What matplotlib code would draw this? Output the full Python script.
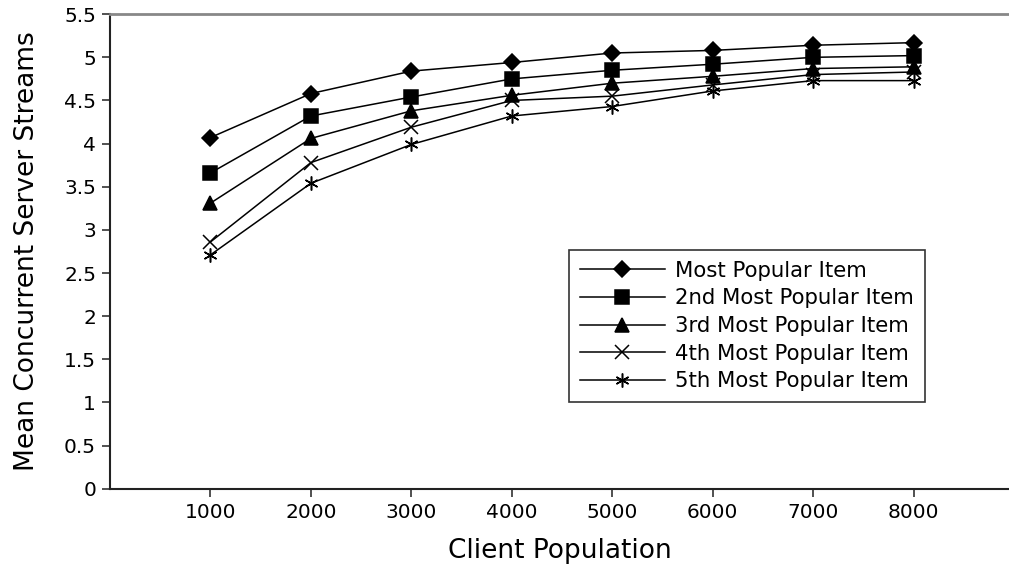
import matplotlib
matplotlib.use("Agg")
import matplotlib.pyplot as plt

clients = [1000, 2000, 3000, 4000, 5000, 6000, 7000, 8000]

most_popular = [4.07, 4.58, 4.84, 4.94, 5.05, 5.08, 5.14, 5.17]
second_popular = [3.66, 4.32, 4.54, 4.75, 4.85, 4.92, 5.00, 5.02]
third_popular = [3.31, 4.06, 4.38, 4.56, 4.70, 4.78, 4.87, 4.89]
fourth_popular = [2.86, 3.78, 4.19, 4.50, 4.55, 4.68, 4.80, 4.83]
fifth_popular = [2.71, 3.54, 3.99, 4.32, 4.43, 4.61, 4.73, 4.73]

series_names = ["Most Popular Item", "2nd Most Popular Item", "3rd Most Popular Item",
                "4th Most Popular Item", "5th Most Popular Item"]
series_values = [most_popular, second_popular, third_popular, fourth_popular, fifth_popular]

y_ticks = [0, 0.5, 1, 1.5, 2, 2.5, 3, 3.5, 4, 4.5, 5, 5.5]
y_tick_labels = ["0", "0.5", "1", "1.5", "2", "2.5", "3", "3.5", "4", "4.5", "5", "5.5"]

# (marker, size, face colour)
markers = [("D", 8, "black"), ("s", 9.5, "black"), ("^", 9.5, "black"),
           ("x", 10, "none"), ((6, 2, 0), 10, "none")]

fig = plt.figure(figsize=(10.09, 5.67), dpi=100)
ax = fig.add_axes([0.109, 0.138, 0.891, 0.837])

for name, vals, (m, ms, fc) in zip(series_names, series_values, markers):
    ax.plot(clients, vals, color="black", lw=1.1, marker=m, ms=ms,
            mfc=fc, mec="black", mew=1.1, label=name)

ax.set_xlim(0, 8950)
ax.set_ylim(0, 5.5)
ax.set_xticks(clients)
ax.set_xticklabels([str(c) for c in clients], fontsize=14.5)
ax.set_yticks(y_ticks)
ax.set_yticklabels(y_tick_labels, fontsize=14.5)
ax.tick_params(axis="both", direction="out", length=6, width=1.2, color="#333333", pad=4)

ax.set_xlabel("Client Population", fontsize=19, labelpad=12)
ax.set_ylabel("Mean Concurrent Server Streams", fontsize=19, labelpad=17)

ax.spines["right"].set_visible(False)
ax.spines["top"].set_color("#888888")
ax.spines["top"].set_linewidth(2)
for s in ("left", "bottom"):
    ax.spines[s].set_color("#222222")
    ax.spines[s].set_linewidth(1.5)

leg = ax.legend(loc="upper left", bbox_to_anchor=(0.5106, 0.503), fontsize=15.3,
                frameon=True, fancybox=False, edgecolor="#333333", framealpha=1,
                handlelength=4.0, handletextpad=0.5, labelspacing=0.36,
                borderpad=0.5, borderaxespad=0)
leg.get_frame().set_linewidth(1.2)

fig.savefig("out.png", dpi=100)
